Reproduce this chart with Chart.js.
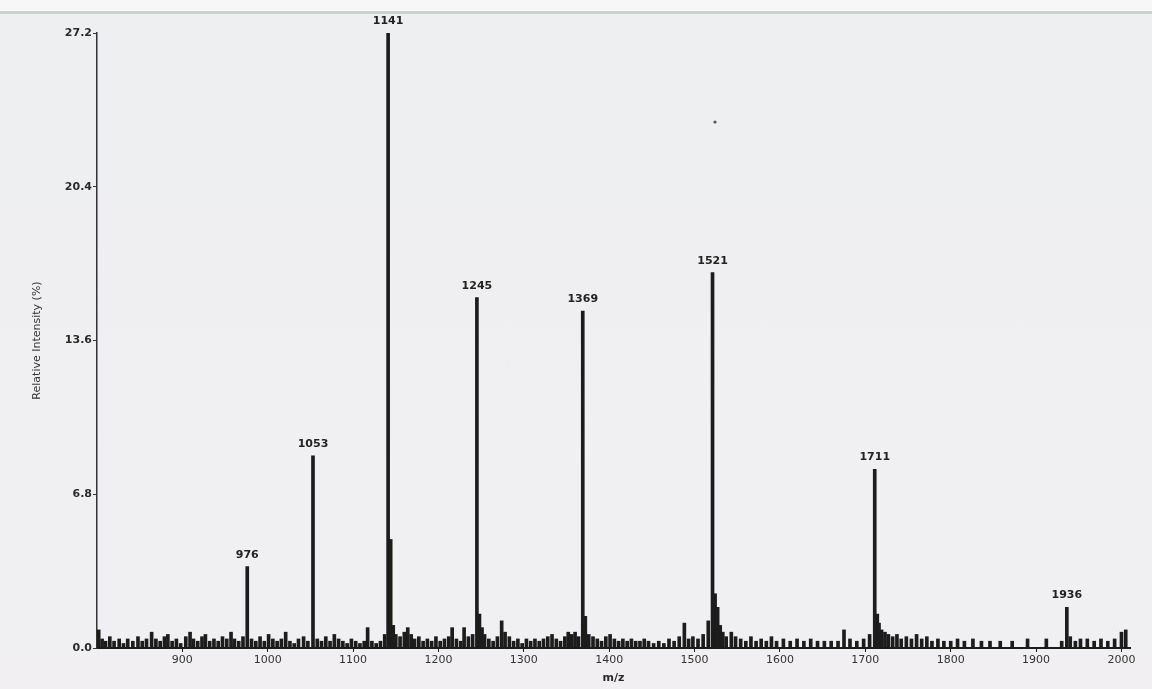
<!DOCTYPE html>
<html>
<head>
<meta charset="utf-8">
<script src="https://cdn.jsdelivr.net/npm/chart.js@4.4.1/dist/chart.umd.min.js"></script>
<style>
  html, body { margin: 0; padding: 0; background: #f0f0f2; }
  #wrap { position: relative; width: 1152px; height: 689px; overflow: hidden;
          background: linear-gradient(#f7f7f8 0px, #f7f7f8 11px, #c9d2cd 11px, #c9d2cd 14px, #eeeff1 14px, #f1eff2 689px); }
  canvas { position: absolute; left: 0; top: 0; }
</style>
</head>
<body>
<div id="wrap"><canvas id="ms" width="1152" height="689"></canvas></div>
<script>
// Labelled ions (m/z) and their relative intensities (%)
const peakMz        = [976, 1053, 1141, 1245, 1369, 1521, 1711, 1936];
const peakIntensity = [3.6,  8.5, 27.2, 15.5, 14.9, 16.6,  7.9,  1.8];

// Minor ions and baseline signal
const minorMz = [
  802, 806, 810, 815, 820, 826, 831, 836, 842, 848, 853, 858, 864, 869, 874, 879, 883, 888, 893, 898,
  904, 909, 913, 918, 923, 927, 932, 937, 942, 947, 952, 957, 961, 966, 971, 981, 986, 991, 996, 1001,
  1006, 1011, 1016, 1021, 1026, 1031, 1036, 1042, 1047, 1058, 1063, 1068, 1073, 1078, 1083, 1088, 1093, 1098, 1103, 1108,
  1113, 1117, 1122, 1127, 1132, 1137, 1144, 1147, 1150, 1155, 1160, 1164, 1168, 1172, 1177, 1182, 1187, 1192, 1197, 1202,
  1207, 1212, 1216, 1221, 1226, 1230, 1235, 1240, 1248, 1251, 1254, 1259, 1264, 1269, 1274, 1278, 1283, 1288, 1293, 1298,
  1303, 1308, 1313, 1318, 1323, 1328, 1333, 1338, 1343, 1348, 1352, 1356, 1360, 1364, 1372, 1376, 1381, 1386, 1391, 1396,
  1401, 1406, 1411, 1416, 1421, 1426, 1431, 1436, 1441, 1446, 1452, 1458, 1464, 1470, 1476, 1482, 1488, 1493, 1498, 1504,
  1510, 1516, 1524, 1527, 1530, 1533, 1537, 1543, 1548, 1554, 1560, 1566, 1572, 1578, 1584, 1590, 1596, 1604, 1612, 1620,
  1628, 1636, 1644, 1652, 1660, 1668, 1675, 1682, 1690, 1698, 1705, 1714, 1716, 1719, 1723, 1727, 1732, 1737, 1742, 1748,
  1754, 1760, 1766, 1772, 1778, 1785, 1792, 1800, 1808, 1816, 1826, 1836, 1846, 1858, 1872, 1890, 1912, 1930, 1940, 1946,
  1952, 1960, 1968, 1976, 1984, 1992, 2000, 2005
];
const minorIntensity = [
  0.8, 0.4, 0.3, 0.5, 0.3, 0.4, 0.2, 0.4, 0.3, 0.5, 0.3, 0.4, 0.7, 0.4, 0.3, 0.5, 0.6, 0.3, 0.4, 0.2,
  0.5, 0.7, 0.4, 0.3, 0.5, 0.6, 0.3, 0.4, 0.3, 0.5, 0.4, 0.7, 0.4, 0.3, 0.5, 0.4, 0.3, 0.5, 0.3, 0.6,
  0.4, 0.3, 0.4, 0.7, 0.3, 0.2, 0.4, 0.5, 0.3, 0.4, 0.3, 0.5, 0.3, 0.6, 0.4, 0.3, 0.2, 0.4, 0.3, 0.2,
  0.3, 0.9, 0.3, 0.2, 0.3, 0.6, 4.8, 1.0, 0.6, 0.5, 0.7, 0.9, 0.6, 0.4, 0.5, 0.3, 0.4, 0.3, 0.5, 0.3,
  0.4, 0.5, 0.9, 0.4, 0.3, 0.9, 0.5, 0.6, 1.5, 0.9, 0.6, 0.4, 0.3, 0.5, 1.2, 0.7, 0.5, 0.3, 0.4, 0.2,
  0.4, 0.3, 0.4, 0.3, 0.4, 0.5, 0.6, 0.4, 0.3, 0.5, 0.7, 0.6, 0.7, 0.5, 1.4, 0.6, 0.5, 0.4, 0.3, 0.5,
  0.6, 0.4, 0.3, 0.4, 0.3, 0.4, 0.3, 0.3, 0.4, 0.3, 0.2, 0.3, 0.2, 0.4, 0.3, 0.5, 1.1, 0.4, 0.5, 0.4,
  0.6, 1.2, 2.4, 1.8, 1.0, 0.7, 0.5, 0.7, 0.5, 0.4, 0.3, 0.5, 0.3, 0.4, 0.3, 0.5, 0.3, 0.4, 0.3, 0.4,
  0.3, 0.4, 0.3, 0.3, 0.3, 0.3, 0.8, 0.4, 0.3, 0.4, 0.6, 1.5, 1.1, 0.8, 0.7, 0.6, 0.5, 0.6, 0.4, 0.5,
  0.4, 0.6, 0.4, 0.5, 0.3, 0.4, 0.3, 0.3, 0.4, 0.3, 0.4, 0.3, 0.3, 0.3, 0.3, 0.4, 0.4, 0.3, 0.5, 0.3,
  0.4, 0.4, 0.3, 0.4, 0.3, 0.4, 0.7, 0.8
];

// Axis ticks
const mzTicks = [900, 1000, 1100, 1200, 1300, 1400, 1500, 1600, 1700, 1800, 1900, 2000];
const intensityTicks = [0, 6.8, 13.6, 20.4, 27.2];

const ink = '#1c1c1c';
const face = '"DejaVu Sans", "Liberation Sans", Arial, sans-serif';

const peakLabels = {
  id: 'peakLabels',
  afterDatasetsDraw(chart) {
    const ctx = chart.ctx;
    const meta = chart.getDatasetMeta(0);
    ctx.save();
    ctx.fillStyle = '#222';
    ctx.font = 'bold 11px ' + face;
    ctx.textAlign = 'center';
    ctx.textBaseline = 'alphabetic';
    meta.data.forEach((bar, i) => {
      ctx.fillText(String(peakMz[i]), bar.x, bar.y - 9);
    });
    // small marker printed on the trace sheet
    ctx.beginPath();
    ctx.arc(715, 122, 1.6, 0, Math.PI * 2);
    ctx.fillStyle = '#555';
    ctx.fill();
    ctx.restore();
  }
};

new Chart(document.getElementById('ms'), {
  type: 'bar',
  data: {
    datasets: [
      {
        label: 'ions',
        data: peakMz.map((x, i) => ({ x, y: peakIntensity[i] })),
        backgroundColor: ink,
        barThickness: 3,
        grouped: false
      },
      {
        label: 'baseline',
        data: minorMz.map((x, i) => ({ x, y: minorIntensity[i] })),
        backgroundColor: ink,
        barThickness: 3,
        grouped: false
      }
    ]
  },
  options: {
    responsive: false,
    animation: false,
    layout: { padding: { top: 33, right: 22, left: 0, bottom: 0 } },
    plugins: { legend: { display: false }, tooltip: { enabled: false } },
    scales: {
      x: {
        type: 'linear',
        min: 800,
        max: 2010,
        offset: false,
        afterBuildTicks: s => { s.ticks = mzTicks.map(v => ({ value: v })); },
        afterFit: s => { s.height = 41; },
        grid: { drawOnChartArea: false, drawTicks: true, tickLength: 4, color: ink, offset: false },
        border: { display: true, color: ink, width: 2 },
        ticks: {
          color: '#333',
          padding: 2,
          maxRotation: 0,
          font: { family: face, size: 11 },
          callback: v => String(v)
        },
        title: {
          display: true,
          text: 'm/z',
          color: '#2a2a2a',
          padding: { top: 0, bottom: 4 },
          font: { family: face, size: 11, weight: 'bold' }
        }
      },
      y: {
        min: 0,
        max: 27.2,
        afterBuildTicks: s => { s.ticks = intensityTicks.map(v => ({ value: v })); },
        afterFit: s => { s.width = 97; },
        grid: { drawOnChartArea: false, drawTicks: true, tickLength: 4, color: '#333' },
        border: { display: true, color: '#333', width: 1.5 },
        ticks: {
          color: '#2a2a2a',
          padding: 1,
          font: { family: face, size: 11, weight: 'bold' },
          callback: v => Number(v).toFixed(1)
        },
        title: {
          display: true,
          text: 'Relative Intensity (%)',
          color: '#333',
          padding: { top: 31, bottom: 0 },
          font: { family: face, size: 11 }
        }
      }
    }
  },
  plugins: [peakLabels]
});
</script>
</body>
</html>
